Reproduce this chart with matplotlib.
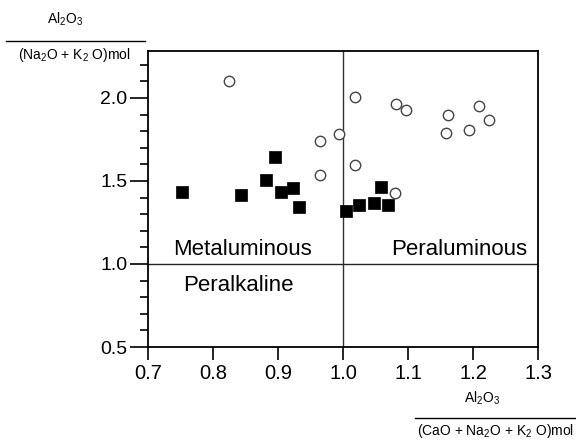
import matplotlib
matplotlib.use("Agg")
import matplotlib.pyplot as plt
from matplotlib.lines import Line2D
from matplotlib.ticker import MultipleLocator

plt.rcParams['font.family'] = ['Liberation Sans', 'DejaVu Sans']
plt.rcParams['mathtext.fontset'] = 'custom'
plt.rcParams['mathtext.rm'] = 'Liberation Sans'
plt.rcParams['mathtext.it'] = 'Liberation Sans'

# Filled squares
sq_x = [0.752, 0.843, 0.881, 0.895, 0.904, 0.923, 0.933, 1.004, 1.024, 1.048, 1.058, 1.069]
sq_y = [1.432, 1.416, 1.506, 1.643, 1.432, 1.460, 1.341, 1.321, 1.355, 1.369, 1.464, 1.355]

# Open circles
ci_x = [0.825, 1.018, 0.994, 0.965, 1.019, 0.965, 1.080, 1.081, 1.097, 1.162, 1.158, 1.194, 1.209, 1.224]
ci_y = [2.104, 2.008, 1.785, 1.743, 1.596, 1.538, 1.426, 1.966, 1.926, 1.896, 1.787, 1.805, 1.954, 1.869]

x_ticks = [0.7, 0.8, 0.9, 1.0, 1.1, 1.2, 1.3]
y_ticks = [0.5, 1.0, 1.5, 2.0]

fig = plt.figure(figsize=(5.76, 4.41), dpi=100)
ax = fig.add_axes([148/576, 1-347/441, (538-148)/576, (347-51)/441])

ax.set_xlim(0.7, 1.3)
ax.set_ylim(0.5, 2.283)

ax.axvline(1.0, color='#333333', lw=1.0, zorder=1)
ax.axhline(1.0, color='#222222', lw=1.0, zorder=1)

ax.scatter(sq_x, sq_y, marker='s', s=78, c='black', edgecolors='black', linewidths=0.5, zorder=3)
ax.scatter(ci_x, ci_y, marker='o', s=56, facecolors='white', edgecolors='#444444', linewidths=1.0, zorder=3)

ax.set_xticks(x_ticks)
ax.set_xticklabels([f"{v:.1f}" for v in x_ticks])
ax.set_yticks(y_ticks)
ax.set_yticklabels([f"{v:.1f}" for v in y_ticks])
ax.yaxis.set_minor_locator(MultipleLocator(0.1))
ax.tick_params(axis='x', which='major', direction='out', length=9, width=1.2, labelsize=14.5, pad=3)
ax.tick_params(axis='y', which='major', direction='out', length=13, width=1.2, labelsize=14, pad=2)
ax.tick_params(axis='y', which='minor', direction='out', length=6, width=1.2)
for s in ax.spines.values():
    s.set_linewidth(1.3)

ax.text(0.7385, 1.09, 'Metaluminous', fontsize=16, ha='left', va='center')
ax.text(1.284, 1.09, 'Peraluminous', fontsize=16, ha='right', va='center')
ax.text(0.7545, 0.87, 'Peralkaline', fontsize=16, ha='left', va='center')

W, H = 576, 441
def fx(px):
    return px / W
def fy(py):
    return 1 - py / H

# y-axis fraction label (top-left)
fig.text(fx(65), fy(19), r'Al$_2$O$_3$', fontsize=10, ha='center', va='center')
fig.add_artist(Line2D([fx(6), fx(145)], [fy(41), fy(41)], color='black', lw=1.0))
fig.text(fx(74), fy(55), r'(Na$_2$O + K$_2$ O)mol', fontsize=10, ha='center', va='center')

# x-axis fraction label (bottom-right)
fig.text(fx(482), fy(398), r'Al$_2$O$_3$', fontsize=10, ha='center', va='center')
fig.add_artist(Line2D([fx(415), fx(576)], [fy(418), fy(418)], color='black', lw=1.0))
fig.text(fx(496), fy(431), r'(CaO + Na$_2$O + K$_2$ O)mol', fontsize=10, ha='center', va='center')

fig.savefig('out.png', dpi=100)
